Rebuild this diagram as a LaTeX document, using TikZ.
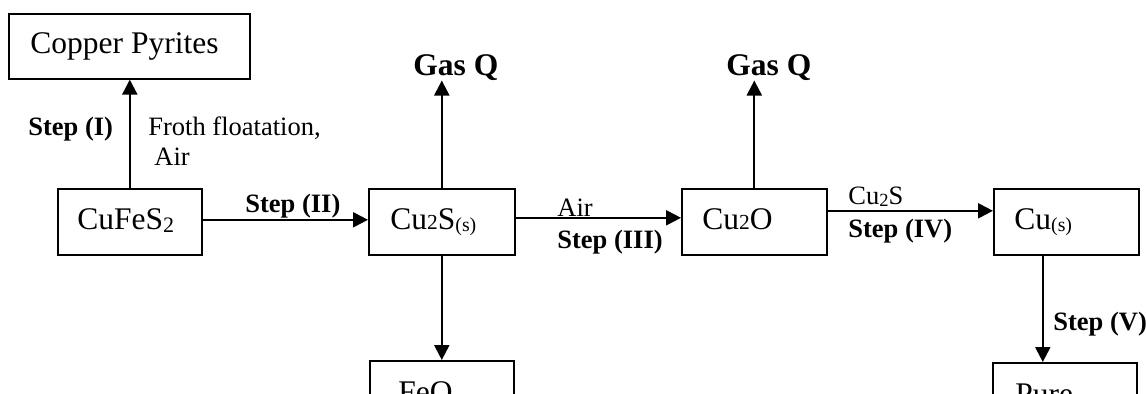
\documentclass[tikz,border=0pt]{standalone}
\usepackage{fontspec}
\setmainfont{Liberation Serif}
\usetikzlibrary{arrows.meta}
\newcommand{\mainsz}{\fontsize{15.75pt}{18pt}\selectfont}
\newcommand{\labsz}{\fontsize{13.25pt}{16pt}\selectfont}
\newcommand{\lowsub}[1]{\raisebox{-0.1em}{\scalebox{0.7}{#1}}}
\newcommand{\flatsub}[1]{\scalebox{0.68}{#1}}
\newcommand{\phsub}[1]{\raisebox{-0.08em}{\scalebox{0.63}{#1}}}
\begin{document}
\begin{tikzpicture}[x=0.5pt,y=-0.5pt,
  boxnode/.style={draw, line width=0.8pt, inner sep=0pt, anchor=north west, minimum height=33pt},
  txt/.style={inner sep=0pt, anchor=base west, font=\mainsz},
  lab/.style={inner sep=0pt, anchor=base west, font=\labsz},
  blab/.style={inner sep=0pt, anchor=base west, font=\labsz\bfseries},
  arr/.style={line width=1.1pt, -{Triangle[width=7.5pt,length=7.5pt]}}]
\useasboundingbox (0,0) rectangle (1146,393);
\fill[white] (0,0) rectangle (1146,393);
\clip (0,0) rectangle (1146,393);
% boxes
\node[boxnode, minimum width=120.5pt, minimum height=32.5pt] (cp) at (8,13) {};
\node[boxnode, minimum width=72pt] (cf) at (57,188) {};
\node[boxnode, minimum width=73pt] (c2s) at (368,188) {};
\node[boxnode, minimum width=72.5pt] (c2o) at (681,188) {};
\node[boxnode, minimum width=72.5pt] (cu) at (993,188) {};
\node[boxnode, minimum width=72pt] (feo) at (369,360) {};
\node[boxnode, minimum width=72pt] (pure) at (992,362) {};
% box texts
\node[txt] (cpt) at (30,53) {Copper Pyrites};
\node[txt] (cft) at (77,229) {CuFeS\lowsub{2}};
\node[txt] (c2st) at (390,229) {Cu\flatsub{2}S\phsub{(s)}};
\node[txt] (c2ot) at (702,229) {Cu\flatsub{2}O};
\node[txt] (cut) at (1014,229) {Cu\phsub{(s)}};
\node[txt] (feot) at (398,402) {FeO};
\node[txt] (puret) at (1015,404) {Pure};
% gas
\node[txt, font=\mainsz\bfseries] (gas1) at (413,75) {Gas Q};
\node[txt, font=\mainsz\bfseries] (gas2) at (726,75) {Gas Q};
% labels
\node[blab] (s1) at (28,135) {Step (I)};
\node[lab] (ff1) at (148,135) {Froth floatation,};
\node[lab] (ff2) at (154,165) {Air};
\node[blab] (s2) at (245,212) {Step (II)};
\node[lab] (air3) at (557,216) {Air};
\node[blab] (s3) at (557,248) {Step (III)};
\node[lab] (cus4) at (848,204) {Cu\lowsub{2}S};
\node[blab] (s4) at (848,237) {Step (IV)};
\node[blab] (s5) at (1053,330) {Step (V)};
% arrows
\draw[arr] (cf.north) -- (cf.north |- cp.south);
\draw[arr] ([yshift=1pt]cf.east) -- ([yshift=1pt]cf.east -| c2s.west);
\draw[arr] ([yshift=2pt]c2s.east) -- ([yshift=2pt]c2s.east -| c2o.west);
\draw[arr] ([yshift=5.5pt]c2o.east) -- ([yshift=5.5pt]c2o.east -| cu.west);
\draw[arr] (c2s.north) -- (c2s.north |- gas1.south);
\draw[arr] (c2o.north) -- (c2o.north |- gas2.south);
\draw[arr] (c2s.south) -- (c2s.south |- feo.north);
\draw[arr] ([xshift=-11.75pt]cu.south) -- ([xshift=-11.75pt]cu.south |- pure.north);
\end{tikzpicture}
\end{document}
